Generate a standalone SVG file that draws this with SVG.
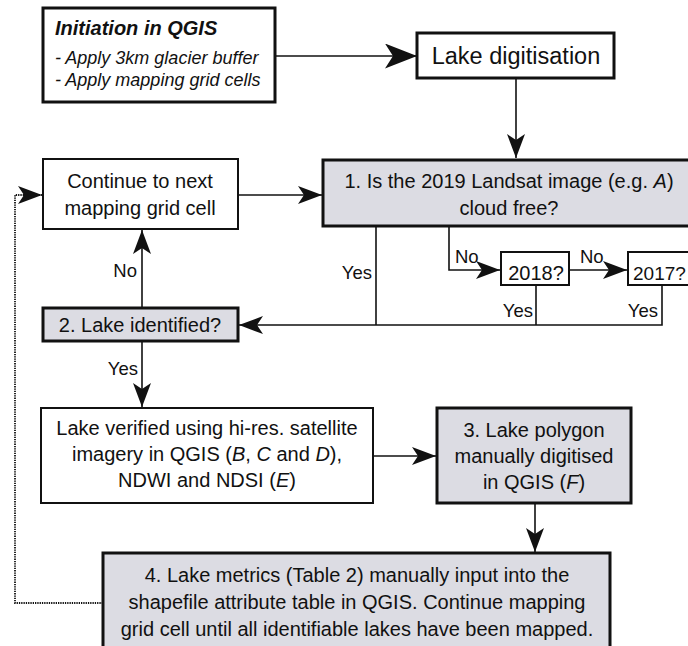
<svg xmlns="http://www.w3.org/2000/svg" width="688" height="646" viewBox="0 0 688 646">
<defs>
<style>
text{font-family:"Liberation Sans",Arial,sans-serif;fill:#111;}
.t{font-size:20px;text-anchor:middle;}
.lb{font-size:18.5px;}
.box{fill:#fff;stroke:#111;}
.g{fill:#dcdce3;stroke:#111;stroke-width:3;}
.thick{stroke-width:3;}
.thin{stroke-width:2;}
.conn{fill:none;stroke:#111;stroke-width:1.6;}
.dot{fill:none;stroke:#111;stroke-width:1.8;stroke-dasharray:1.3 1;}
</style>
<marker id="ah" markerUnits="userSpaceOnUse" markerWidth="26" markerHeight="20" refX="24" refY="9" orient="auto">
<path d="M0,0 L24,9 L0,18 L6,9 z" fill="#111"/>
</marker>
<marker id="ahL" markerUnits="userSpaceOnUse" markerWidth="34" markerHeight="28" refX="32" refY="12.5" orient="auto">
<path d="M0,0 L32,12.5 L0,25 L8,12.5 z" fill="#111"/>
</marker>
</defs>
<g id="connectors">
<path class="conn" d="M275,56 H417" marker-end="url(#ahL)"/>
<path class="conn" d="M516,78 V158" marker-end="url(#ah)"/>
<path class="conn" d="M238,195 H322" marker-end="url(#ah)"/>
<path class="conn" d="M142,308 V230" marker-end="url(#ah)"/>
<path class="conn" d="M376,226 V325"/>
<path class="conn" d="M662,285 V325 H239" marker-end="url(#ah)"/>
<path class="conn" d="M536,285 V325"/>
<path class="conn" d="M449,226 V270 H500" marker-end="url(#ah)"/>
<path class="conn" d="M569,270 H627" marker-end="url(#ah)"/>
<path class="conn" d="M142,341 V407" marker-end="url(#ah)"/>
<path class="conn" d="M373,456 H436" marker-end="url(#ah)"/>
<path class="conn" d="M535,503 V552" marker-end="url(#ah)"/>
<path class="dot" d="M103,603 H15 V195 H42" marker-end="url(#ah)"/>
<text class="lb" x="137" y="277" text-anchor="end">No</text>
<text class="lb" x="372" y="279" text-anchor="end">Yes</text>
<text class="lb" x="455" y="263">No</text>
<text class="lb" x="580" y="263">No</text>
<text class="lb" x="533" y="317" text-anchor="end">Yes</text>
<text class="lb" x="658" y="317" text-anchor="end">Yes</text>
<text class="lb" x="138" y="375" text-anchor="end">Yes</text>
</g>
<g id="initiation">
<rect class="box thick" x="43" y="8" width="232" height="94"/>
<text x="55" y="35" style="font-size:20px;font-weight:bold;font-style:italic">Initiation in QGIS</text>
<text x="55" y="64" style="font-size:18px;font-style:italic">- Apply 3km glacier buffer</text>
<text x="55" y="86" style="font-size:18px;font-style:italic">- Apply mapping grid cells</text>
</g>
<g id="lake-digitisation">
<rect class="box thick" x="417" y="33" width="197" height="45"/>
<text x="516" y="64" style="font-size:23.5px;text-anchor:middle">Lake digitisation</text>
</g>
<g id="step1">
<rect class="g" x="323" y="160" width="372" height="66"/>
<text class="t" x="509" y="188">1. Is the 2019 Landsat image (e.g. <tspan font-style="italic">A</tspan>)</text>
<text class="t" x="509" y="215">cloud free?</text>
</g>
<g id="continue">
<rect class="box thin" x="43" y="159" width="195" height="70"/>
<text class="t" x="140" y="188">Continue to next</text>
<text class="t" x="140" y="215">mapping grid cell</text>
</g>
<g id="y2018">
<rect class="box thin" x="501" y="252" width="68" height="33"/>
<text class="t" x="536" y="280">2018?</text>
</g>
<g id="y2017">
<rect class="box thin" x="628" y="252" width="70" height="33"/>
<text x="633" y="280" style="font-size:19px">2017?</text>
</g>
<g id="step2">
<rect class="g" x="43" y="308" width="195" height="33"/>
<text class="t" x="140" y="332">2. Lake identified?</text>
</g>
<g id="verified">
<rect class="box thin" x="41" y="408" width="332" height="95"/>
<text class="t" x="207" y="435">Lake verified using hi-res. satellite</text>
<text class="t" x="207" y="461">imagery in QGIS (<tspan font-style="italic">B</tspan>, <tspan font-style="italic">C</tspan> and <tspan font-style="italic">D</tspan>),</text>
<text class="t" x="207" y="487">NDWI and NDSI (<tspan font-style="italic">E</tspan>)</text>
</g>
<g id="step3">
<rect class="g" x="437" y="408" width="194" height="95"/>
<text class="t" x="534" y="437">3. Lake polygon</text>
<text class="t" x="534" y="463">manually digitised</text>
<text class="t" x="534" y="489">in QGIS (<tspan font-style="italic">F</tspan>)</text>
</g>
<g id="step4">
<rect class="g" x="103" y="553" width="507" height="100"/>
<text class="t" x="357" y="582">4. Lake metrics (Table 2) manually input into the</text>
<text class="t" x="357" y="609">shapefile attribute table in QGIS. Continue mapping</text>
<text class="t" x="357" y="636">grid cell until all identifiable lakes have been mapped.</text>
</g>
</svg>
